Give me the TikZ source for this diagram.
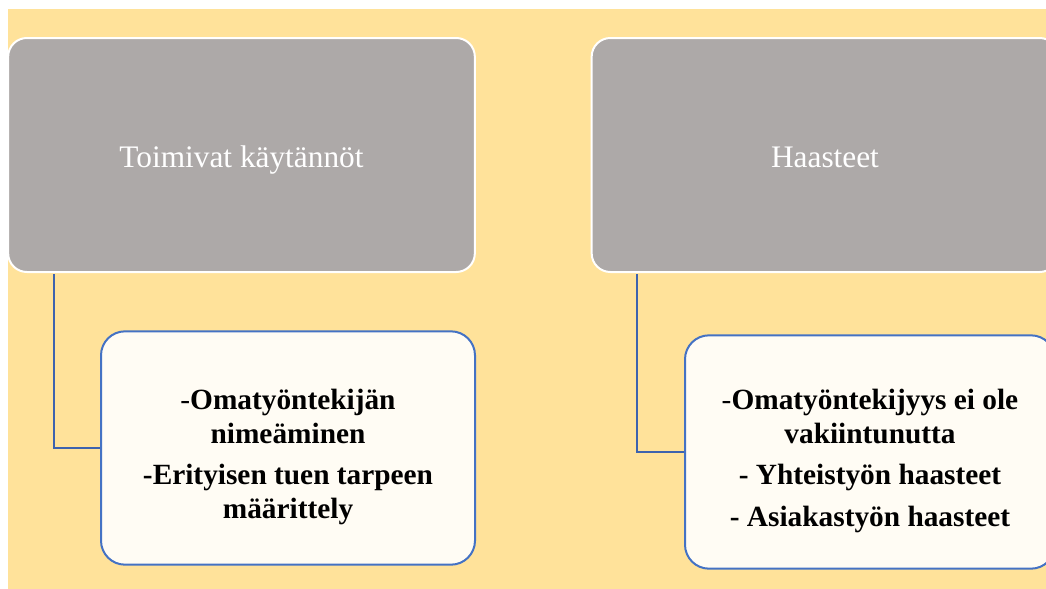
\documentclass[tikz,border=0pt]{standalone}
\usepackage{fontspec}
\setmainfont{Liberation Serif}

\definecolor{bgyellow}{HTML}{FFE29A}
\definecolor{boxgray}{HTML}{ADA9A8}
\definecolor{boxcream}{HTML}{FFFCF4}
\definecolor{edgeblue}{HTML}{4472C4}
\definecolor{linkblue}{HTML}{3D63AE}

\tikzset{
    headbox/.style={rectangle, rounded corners=14pt, fill=boxgray, draw=white,
        line width=1.5pt, text=white, inner sep=0pt,
        font=\fontsize{23.5}{28}\selectfont, text height=24pt, text depth=5pt,
        minimum width=350pt, minimum height=175.5pt},
    itembox/.style={rectangle, rounded corners=18pt, fill=boxcream, draw=edgeblue,
        line width=1.5pt, align=center, inner sep=0pt,
        font=\bfseries\fontsize{22}{25.5}\selectfont,
        minimum height=175pt},
    link/.style={linkblue, line width=1.6pt}
}

\begin{document}
\begin{tikzpicture}[x=0.75pt, y=-0.75pt]
    \useasboundingbox (0,0) rectangle (1046,589);
    % Background
    \fill[bgyellow] (8,9) rectangle (1046,589);

    % Left column
    \node[headbox] (toimivat) at (241.5,155) {Toimivat käytännöt};
    \node[itembox, minimum width=280.5pt] (kaytannot) at (288,448)
        {\rule{0pt}{29pt}{\mdseries -}Omatyöntekijän\\ nimeäminen\\[5pt]
         -Erityisen tuen tarpeen\\ määrittely};
    \draw[link] ([xshift=35pt, yshift=-0.8pt]toimivat.south west) |- (kaytannot.west);

    % Right column
    \node[headbox] (haasteet) at (825,155) {Haasteet};
    \node[itembox, minimum width=277.5pt] (haastelista) at (870,452)
        {\rule{0pt}{29pt}{\mdseries -}Omatyöntekijyys ei ole\\ vakiintunutta\\[5pt]
         - Yhteistyön haasteet\\[6pt]
         - Asiakastyön haasteet};
    \draw[link] ([xshift=35pt, yshift=-0.8pt]haasteet.south west) |- (haastelista.west);
\end{tikzpicture}
\end{document}
